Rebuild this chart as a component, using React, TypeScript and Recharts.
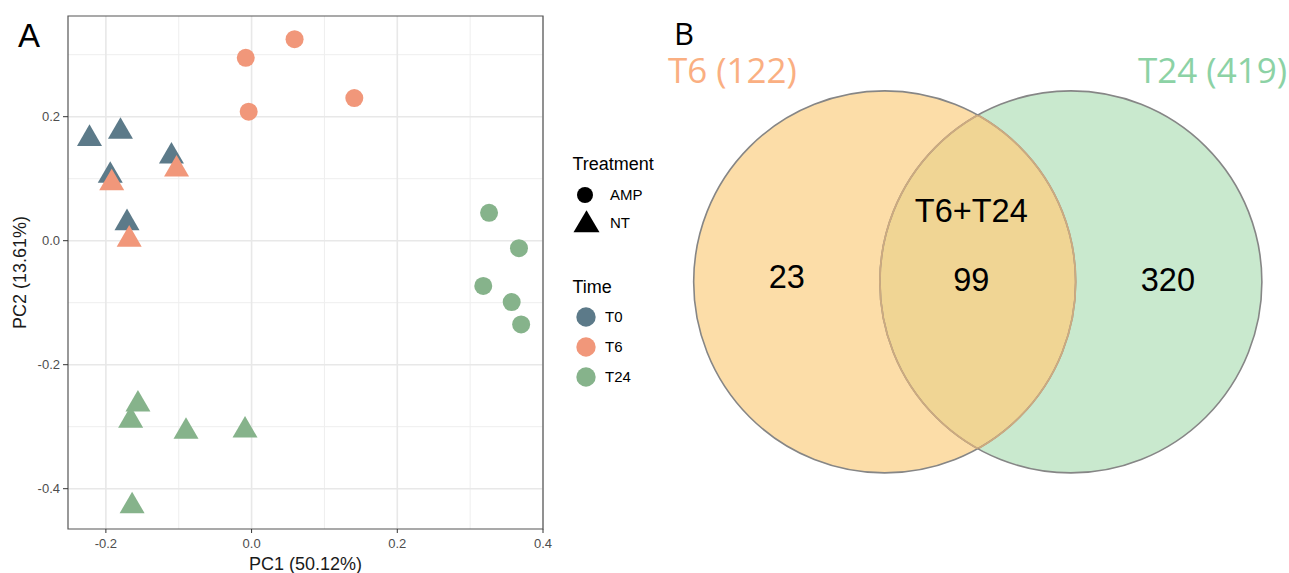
import React from 'react';
import { ScatterChart, Scatter, XAxis, YAxis, CartesianGrid, ReferenceArea } from 'recharts';

// Panel A: PCA scores
const t0NT = [
  { pc1: -0.2225, pc2: 0.1645 },
  { pc1: -0.180, pc2: 0.176 },
  { pc1: -0.110, pc2: 0.136 },
  { pc1: -0.194, pc2: 0.105 },
  { pc1: -0.171, pc2: 0.0285 },
];
const t6AMP = [
  { pc1: -0.008, pc2: 0.295 },
  { pc1: 0.059, pc2: 0.325 },
  { pc1: -0.004, pc2: 0.208 },
  { pc1: 0.141, pc2: 0.230 },
];
const t6NT = [
  { pc1: -0.103, pc2: 0.115 },
  { pc1: -0.192, pc2: 0.093 },
  { pc1: -0.168, pc2: 0.002 },
];
const t24AMP = [
  { pc1: 0.326, pc2: 0.045 },
  { pc1: 0.367, pc2: -0.012 },
  { pc1: 0.318, pc2: -0.073 },
  { pc1: 0.357, pc2: -0.099 },
  { pc1: 0.370, pc2: -0.135 },
];
const t24NT = [
  { pc1: -0.156, pc2: -0.264 },
  { pc1: -0.166, pc2: -0.290 },
  { pc1: -0.090, pc2: -0.308 },
  { pc1: -0.009, pc2: -0.306 },
  { pc1: -0.164, pc2: -0.428 },
];

const xTicks = [-0.2, 0, 0.2, 0.4];
const yTicks = [-0.4, -0.2, 0, 0.2];
const xMinor = [-0.1, 0.1, 0.3];
const yMinor = [-0.3, -0.1, 0.1, 0.3];

// Panel B: Venn counts
const vennSetNames = ['T6', 'T24'];
const vennSetTotals = [122, 419];
const vennUniqueCounts = [23, 320];
const vennSharedCount = 99;

const COLORS: Record<string, string> = { T0: '#5C7A89', T6: '#F1977A', T24: '#86B38B' };
const FONT = '"Liberation Sans", Arial, sans-serif';
const TITLE_FONT = '"Open Sans", "Noto Sans", sans-serif';

const X_DOMAIN = [-0.252, 0.4];
const Y_DOMAIN = [-0.465, 0.3624];

const fmt = (v: number) => v.toFixed(1);

const circleShape = (color: string) => (props: any) => (
  <circle cx={props.cx} cy={props.cy} r={9} fill={color} />
);

const TRI_W = 25;
const TRI_H = 21.6;
const triPoints = (cx: number, cy: number, w: number, h: number) =>
  `${cx},${cy - (2 * h) / 3} ${cx - w / 2},${cy + h / 3} ${cx + w / 2},${cy + h / 3}`;

const triangleShape = (color: string) => (props: any) => (
  <polygon points={triPoints(props.cx, props.cy, TRI_W, TRI_H)} fill={color} />
);

// Venn layout, in units of the circle radius
const VENN_W = 649;
const VENN_H = 573;
const VENN_X = [-1.281, 2.117];
const VENN_Y = [-1.524, 1.476];
const PX_X = VENN_W / (VENN_X[1] - VENN_X[0]);
const PX_Y = VENN_H / (VENN_Y[1] - VENN_Y[0]);
const VENN_GAP = 0.975;

const VENN_FILLS = ['#FCDDA8', '#C9E9CE'];
const OVERLAP_FILL = '#F0D594';
const TITLE_COLORS = ['#FAAF82', '#8CD2A5'];

const vennCircles = vennSetNames.map((name, i) => ({ name, idx: i, x: i * VENN_GAP, y: 0, r: 1 }));

const vennLabels = [
  { kind: 'title', idx: 0, text: `${vennSetNames[0]} (${vennSetTotals[0]})`, x: -1.135, y: 1.107 },
  { kind: 'title', idx: 1, text: `${vennSetNames[1]} (${vennSetTotals[1]})`, x: VENN_GAP + 0.351, y: 1.107 },
  { kind: 'count', idx: 0, text: String(vennUniqueCounts[0]), x: -0.512, y: 0.029 },
  { kind: 'count', idx: 1, text: String(vennUniqueCounts[1]), x: VENN_GAP + 0.508, y: 0.013 },
  { kind: 'count', idx: 2, text: String(vennSharedCount), x: VENN_GAP / 2 - 0.034, y: 0.013 },
  { kind: 'count', idx: 2, text: vennSetNames.join('+'), x: VENN_GAP / 2 - 0.034, y: 0.377 },
];

const VennFill = (props: any) => {
  const { cx, cy, payload } = props;
  const rx = payload.r * PX_X;
  const ry = payload.r * PX_Y;
  return (
    <g>
      <defs>
        <clipPath id={`venn-clip-${payload.idx}`}>
          <ellipse cx={cx} cy={cy} rx={rx} ry={ry} />
        </clipPath>
      </defs>
      <ellipse cx={cx} cy={cy} rx={rx} ry={ry} fill={VENN_FILLS[payload.idx]} />
      {payload.idx === 1 && (
        <ellipse cx={cx} cy={cy} rx={rx} ry={ry} fill={OVERLAP_FILL} clipPath="url(#venn-clip-0)" />
      )}
    </g>
  );
};

const VennStroke = (props: any) => {
  const { cx, cy, payload } = props;
  const rx = payload.r * PX_X;
  const ry = payload.r * PX_Y;
  return (
    <g>
      <ellipse cx={cx} cy={cy} rx={rx} ry={ry} fill="none" stroke="#868686" strokeWidth={1.6} />
      <ellipse
        cx={cx}
        cy={cy}
        rx={rx}
        ry={ry}
        fill="none"
        stroke="#CDAA7F"
        strokeWidth={1.8}
        clipPath={`url(#venn-clip-${1 - payload.idx})`}
      />
    </g>
  );
};

const VennText = (props: any) => {
  const { cx, cy, payload } = props;
  if (payload.kind === 'title') {
    return (
      <text x={cx} y={cy + 35 * 0.357} fontSize={35} fontFamily={TITLE_FONT} fill={TITLE_COLORS[payload.idx]}>
        {payload.text}
      </text>
    );
  }
  return (
    <text x={cx} y={cy + 32.5 * 0.358} fontSize={32.5} fontFamily={FONT} fill="#000" textAnchor="middle">
      {payload.text}
    </text>
  );
};

const Legend = () => (
  <g fontFamily={FONT}>
    <text x={572.5} y={170.4} fontSize={18} fill="#000">Treatment</text>
    <circle cx={585} cy={195} r={8} fill="#000" />
    <text x={610} y={200.4} fontSize={15} fill="#000">AMP</text>
    <polygon points={triPoints(586.5, 225, 26, 22)} fill="#000" />
    <text x={610} y={228.4} fontSize={15} fill="#000">NT</text>
    <text x={572.5} y={293.4} fontSize={18} fill="#000">Time</text>
    {['T0', 'T6', 'T24'].map((t, i) => (
      <g key={t}>
        <circle cx={586} cy={317 + i * 30} r={9.7} fill={COLORS[t]} />
        <text x={605} y={322.4 + i * 30} fontSize={15} fill="#000">{t}</text>
      </g>
    ))}
  </g>
);

export default function App() {
  return (
    <div style={{ position: 'absolute', left: 0, top: 0, width: 1289, height: 573, background: '#fff', fontFamily: FONT }}>
      <div style={{ position: 'absolute', left: 0, top: 0 }}>
        <ScatterChart width={640} height={573} margin={{ top: 16, right: 97, bottom: 0, left: 0 }}>
          <CartesianGrid horizontalValues={yMinor} verticalValues={xMinor} stroke="#EEEEEE" strokeWidth={1} />
          <CartesianGrid horizontalValues={yTicks} verticalValues={xTicks} stroke="#E8E8E8" strokeWidth={1.6} />
          <XAxis
            type="number"
            dataKey="pc1"
            domain={X_DOMAIN}
            ticks={xTicks}
            allowDataOverflow
            interval={0}
            tickFormatter={fmt}
            axisLine={false}
            tickLine={{ stroke: '#333' }}
            tickSize={4}
            tickMargin={6}
            tick={{ fontSize: 13, fill: '#4D4D4D' }}
            height={44}
            label={{ value: 'PC1 (50.12%)', position: 'insideBottom', offset: 3, fontSize: 18, fill: '#1A1A1A' }}
          />
          <YAxis
            type="number"
            dataKey="pc2"
            domain={Y_DOMAIN}
            ticks={yTicks}
            allowDataOverflow
            interval={0}
            tickFormatter={fmt}
            axisLine={false}
            tickLine={{ stroke: '#333' }}
            tickSize={5}
            tickMargin={3}
            tick={{ fontSize: 13, fill: '#4D4D4D' }}
            width={68}
            label={{
              value: 'PC2 (13.61%)',
              angle: -90,
              position: 'insideLeft',
              offset: 20,
              fontSize: 18,
              fill: '#1A1A1A',
              style: { textAnchor: 'middle' },
            }}
          />
          <ReferenceArea
            x1={X_DOMAIN[0]}
            x2={X_DOMAIN[1]}
            y1={Y_DOMAIN[0]}
            y2={Y_DOMAIN[1]}
            fill="none"
            stroke="#555"
            strokeWidth={1.2}
            ifOverflow="visible"
          />
          <Scatter data={t0NT} shape={triangleShape(COLORS.T0)} isAnimationActive={false} />
          <Scatter data={t6AMP} shape={circleShape(COLORS.T6)} isAnimationActive={false} />
          <Scatter data={t6NT} shape={triangleShape(COLORS.T6)} isAnimationActive={false} />
          <Scatter data={t24AMP} shape={circleShape(COLORS.T24)} isAnimationActive={false} />
          <Scatter data={t24NT} shape={triangleShape(COLORS.T24)} isAnimationActive={false} />
        </ScatterChart>
      </div>

      <div style={{ position: 'absolute', left: 640, top: 0 }}>
        <ScatterChart width={VENN_W} height={VENN_H} margin={{ top: 0, right: 0, bottom: 0, left: 0 }}>
          <XAxis type="number" dataKey="x" domain={VENN_X} allowDataOverflow hide height={0} />
          <YAxis type="number" dataKey="y" domain={VENN_Y} allowDataOverflow hide width={0} />
          <Scatter data={vennCircles} shape={VennFill} isAnimationActive={false} />
          <Scatter data={vennCircles} shape={VennStroke} isAnimationActive={false} />
          <Scatter data={vennLabels} shape={VennText} isAnimationActive={false} />
        </ScatterChart>
      </div>

      <svg width={1289} height={573} style={{ position: 'absolute', left: 0, top: 0, pointerEvents: 'none' }}>
        <text x={18} y={46.6} fontSize={33} fontFamily={FONT} fill="#000">A</text>
        <text x={674} y={45} fontSize={31} fontFamily={TITLE_FONT} fill="#000">B</text>
        <Legend />
      </svg>
    </div>
  );
}
